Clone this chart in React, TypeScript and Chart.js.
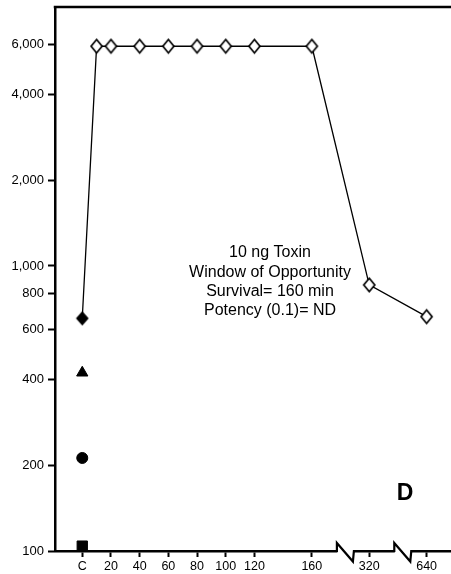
import React, { useEffect, useRef } from 'react';
import { Chart, registerables } from 'chart.js';
Chart.register(...registerables);

// ---- data ----
const xTickLabels = ['C', '20', '40', '60', '80', '100', '120', '160', '320', '640'];
const xTickMinutes = [0, 20, 40, 60, 80, 100, 120, 160, 320, 640];
const yTickValues = [100, 200, 400, 600, 800, 1000, 2000, 4000, 6000];

const seriesMinutes = [0, 10, 20, 40, 60, 80, 100, 120, 160, 320, 640];
const seriesValues = [655, 5900, 5900, 5900, 5900, 5900, 5900, 5900, 5900, 858, 664];

const controlTriangle = [422];
const controlCircle = [212];
const controlSquare = [104];

const annotationLines = ['10 ng Toxin', 'Window of Opportunity', 'Survival= 160 min', 'Potency (0.1)= ND'];
const panelLabel = 'D';
const breakMinutes = [240, 480];

// broken axis: linear to 160, then each doubling takes 40 units
const axisPos = (m: number) => (m <= 160 ? m : 160 + 40 * Math.log2(m / 160));

const FONT = '"Liberation Sans", Arial, Helvetica, sans-serif';

function makeDiamond(w: number, h: number, filled: boolean) {
  const c = document.createElement('canvas');
  const pad = 2;
  c.width = Math.ceil(w + pad * 2);
  c.height = Math.ceil(h + pad * 2);
  const g = c.getContext('2d')!;
  const cx = c.width / 2, cy = c.height / 2;
  g.beginPath();
  g.moveTo(cx, cy - h / 2);
  g.lineTo(cx + w / 2, cy);
  g.lineTo(cx, cy + h / 2);
  g.lineTo(cx - w / 2, cy);
  g.closePath();
  g.fillStyle = filled ? '#000' : '#fff';
  g.fill();
  g.lineWidth = 1.7;
  g.lineJoin = 'miter';
  g.strokeStyle = '#000';
  g.stroke();
  return c;
}

export default function App() {
  const ref = useRef<HTMLCanvasElement>(null);
  useEffect(() => {
    const openD = makeDiamond(11, 13.5, false);
    const fillD = makeDiamond(10.5, 12, true);

    const overlay = {
      id: 'overlay',
      afterDraw(chart: any) {
        const { ctx, chartArea } = chart;
        const xs = chart.scales.x;
        ctx.save();
        // top border
        ctx.strokeStyle = '#000';
        ctx.lineWidth = 2.5;
        ctx.beginPath();
        ctx.moveTo(chartArea.left - 1.25, chartArea.top);
        ctx.lineTo(chart.width, chartArea.top);
        ctx.stroke();
        // axis breaks
        const by = chartArea.bottom;
        breakMinutes.forEach((m) => {
          const cx = xs.getPixelForValue(axisPos(m));
          ctx.fillStyle = '#fff';
          ctx.fillRect(cx - 8, by - 2, 16, 4);
          ctx.strokeStyle = '#000';
          ctx.lineWidth = 2.2;
          ctx.lineJoin = 'miter';
          ctx.beginPath();
          ctx.moveTo(cx - 12, by);
          ctx.lineTo(cx - 8.5, by);
          ctx.lineTo(cx - 8.5, by - 8);
          ctx.lineTo(cx + 7.5, by + 10.5);
          ctx.lineTo(cx + 8.5, by);
          ctx.lineTo(cx + 12, by);
          ctx.stroke();
        });
        // annotation
        ctx.fillStyle = '#000';
        ctx.textAlign = 'center';
        ctx.textBaseline = 'middle';
        ctx.font = `16px ${FONT}`;
        const ax = chartArea.left + 215;
        annotationLines.forEach((t, i) => {
          ctx.fillText(t, ax, 253 + i * 19.2);
        });
        ctx.font = `bold 23px ${FONT}`;
        ctx.fillText(panelLabel, chartArea.left + 350, 494);
        ctx.restore();
      },
    };

    const mainData = seriesMinutes.map((m, i) => ({ x: axisPos(m), y: seriesValues[i] }));
    const chart = new Chart(ref.current!, {
      type: 'scatter',
      data: {
        datasets: [
          {
            data: mainData,
            showLine: true,
            borderColor: '#000',
            borderWidth: 1.3,
            pointStyle: mainData.map((_, i) => (i === 0 ? fillD : openD)) as any,
            pointRadius: 7,
          },
          {
            data: controlTriangle.map((v) => ({ x: 0, y: v })),
            pointStyle: 'triangle',
            pointRadius: 6.5,
            backgroundColor: '#000',
            borderColor: '#000',
            borderWidth: 1,
          },
          {
            data: controlCircle.map((v) => ({ x: 0, y: v })),
            pointStyle: 'circle',
            pointRadius: 5.5,
            backgroundColor: '#000',
            borderColor: '#000',
            borderWidth: 1,
          },
          {
            data: controlSquare.map((v) => ({ x: 0, y: v })),
            pointStyle: 'rect',
            pointRadius: 7.3,
            backgroundColor: '#000',
            borderColor: '#000',
            borderWidth: 1,
          },
        ],
      },
      options: {
        animation: false,
        responsive: false,
        events: [],
        layout: { autoPadding: false, padding: { top: 7, right: 0, left: 0, bottom: 0 } },
        plugins: { legend: { display: false }, tooltip: { enabled: false } },
        scales: {
          x: {
            type: 'linear',
            min: -19,
            max: 257,
            afterBuildTicks: (s: any) => {
              s.ticks = xTickMinutes.map((m) => ({ value: axisPos(m) }));
            },
            afterFit: (s: any) => {
              s.height = 23;
              s.paddingLeft = 0;
              s.paddingRight = 0;
            },
            ticks: {
              autoSkip: false,
              maxRotation: 0,
              padding: 2,
              color: '#000',
              font: { family: FONT, size: 12.5 },
              callback: (v: any) => {
                const i = xTickMinutes.findIndex((m) => Math.abs(axisPos(m) - v) < 1e-6);
                return i >= 0 ? xTickLabels[i] : '';
              },
            },
            grid: { drawOnChartArea: false, drawTicks: true, tickLength: 6, tickWidth: 2, tickColor: '#000' },
            border: { display: true, color: '#000', width: 2.5 },
          },
          y: {
            type: 'logarithmic',
            min: 100,
            max: 8100,
            afterBuildTicks: (s: any) => {
              s.ticks = yTickValues.map((v) => ({ value: v }));
            },
            afterFit: (s: any) => {
              s.width = 55;
              s.paddingTop = 0;
              s.paddingBottom = 0;
            },
            ticks: {
              autoSkip: false,
              padding: 4,
              color: '#000',
              font: { family: FONT, size: 13 },
              callback: (v: any) => Number(v).toLocaleString('en-US'),
            },
            grid: { drawOnChartArea: false, drawTicks: true, tickLength: 7, tickWidth: 2, tickColor: '#000' },
            border: { display: true, color: '#000', width: 2.5 },
          },
        },
      },
      plugins: [overlay],
    });
    return () => chart.destroy();
  }, []);

  return (
    <div style={{ position: 'fixed', left: 0, top: 0, width: 451, height: 574, background: '#fff' }}>
      <canvas ref={ref} width={451} height={574} style={{ display: 'block' }} />
    </div>
  );
}
